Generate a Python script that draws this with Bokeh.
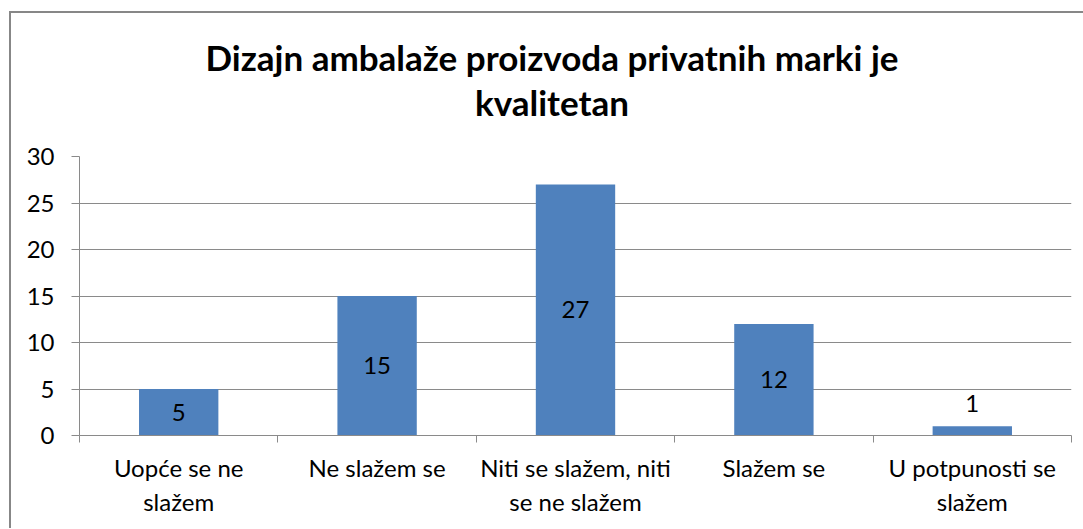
from bokeh.plotting import figure
from bokeh.models import FixedTicker, ColumnDataSource, Range1d, Div
from bokeh.layouts import column
from bokeh.core.properties import value
from bokeh.embed import file_html
from bokeh.resources import INLINE

title_lines = ["Dizajn ambalaže proizvoda privatnih marki je", "kvalitetan"]
categories = ["Uopće se ne slažem", "Ne slažem se", "Niti se slažem, niti se ne slažem",
              "Slažem se", "U potpunosti se slažem"]
tick_labels = ["Uopće se ne\nslažem", "Ne slažem se", "Niti se slažem, niti\nse ne slažem",
               "Slažem se", "U potpunosti se\nslažem"]
values = [5, 15, 27, 12, 1]
y_ticks = [0, 5, 10, 15, 20, 25, 30]

FONT = "Lato"
BAR = "#4F81BD"
GRID = "#8A8A8A"
FS = "24px"

xs = [i + 0.5 for i in range(len(categories))]
label_y = [v / 2 if v >= 3 else v for v in values]
label_base = ["middle" if v >= 3 else "bottom" for v in values]
label_off = [0 if v >= 3 else -14 for v in values]

src = ColumnDataSource(dict(x=xs, top=values, cat=categories, ly=label_y,
                            txt=[str(v) for v in values], base=label_base, off=label_off))

title_div = Div(
    text="<br>".join(title_lines), width=1072, height=119,
    styles={"text-align": "center", "font-family": FONT, "font-weight": "bold",
            "font-size": "35px", "line-height": "45px", "color": "black",
            "padding-top": "17px", "box-sizing": "border-box"})

p = figure(width=1072, height=386, output_backend="svg", toolbar_location=None,
           x_range=Range1d(0, len(categories)), y_range=Range1d(0, 30),
           min_border_left=68, min_border_right=12, min_border_top=14, min_border_bottom=93)
p.outline_line_color = None
p.background_fill_color = "white"
p.border_fill_color = "white"

p.vbar(x="x", top="top", width=0.4, bottom=0, source=src, fill_color=BAR, line_color=None)
p.text(x="x", y="ly", text="txt", source=src, text_align="center", text_baseline="base",
       y_offset="off", text_font=value(FONT), text_font_size=FS, text_color="black")

# y axis
p.yaxis.ticker = FixedTicker(ticks=y_ticks)
p.yaxis.minor_tick_line_color = None
p.yaxis.major_tick_in = 0
p.yaxis.major_tick_out = 8
p.yaxis.major_tick_line_color = GRID
p.yaxis.axis_line_color = GRID
p.yaxis.major_label_standoff = 17
p.yaxis.major_label_text_font = FONT
p.yaxis.major_label_text_font_size = FS
p.yaxis.major_label_text_color = "black"
p.ygrid.grid_line_color = GRID
p.ygrid.ticker = FixedTicker(ticks=y_ticks)

# x axis
p.xaxis.ticker = FixedTicker(ticks=xs, minor_ticks=list(range(len(categories) + 1)))
p.xaxis.major_label_overrides = {x: t for x, t in zip(xs, tick_labels)}
p.xaxis.major_tick_line_color = None
p.xaxis.major_tick_in = 0
p.xaxis.major_tick_out = 0
p.xaxis.minor_tick_in = 0
p.xaxis.minor_tick_out = 7
p.xaxis.minor_tick_line_color = GRID
p.xaxis.axis_line_color = GRID
p.xaxis.major_label_standoff = 10
p.xaxis.major_label_text_font = FONT
p.xaxis.major_label_text_font_size = FS
p.xaxis.major_label_text_line_height = 1.18
p.xaxis.major_label_text_color = "black"
p.xgrid.grid_line_color = None

layout = column(title_div, p, spacing=0,
                styles={"margin-left": "9px", "margin-top": "11px",
                        "border-left": "2px solid #878787", "border-top": "2px solid #878787"})

open("out.html", "w").write(file_html(layout, INLINE))
